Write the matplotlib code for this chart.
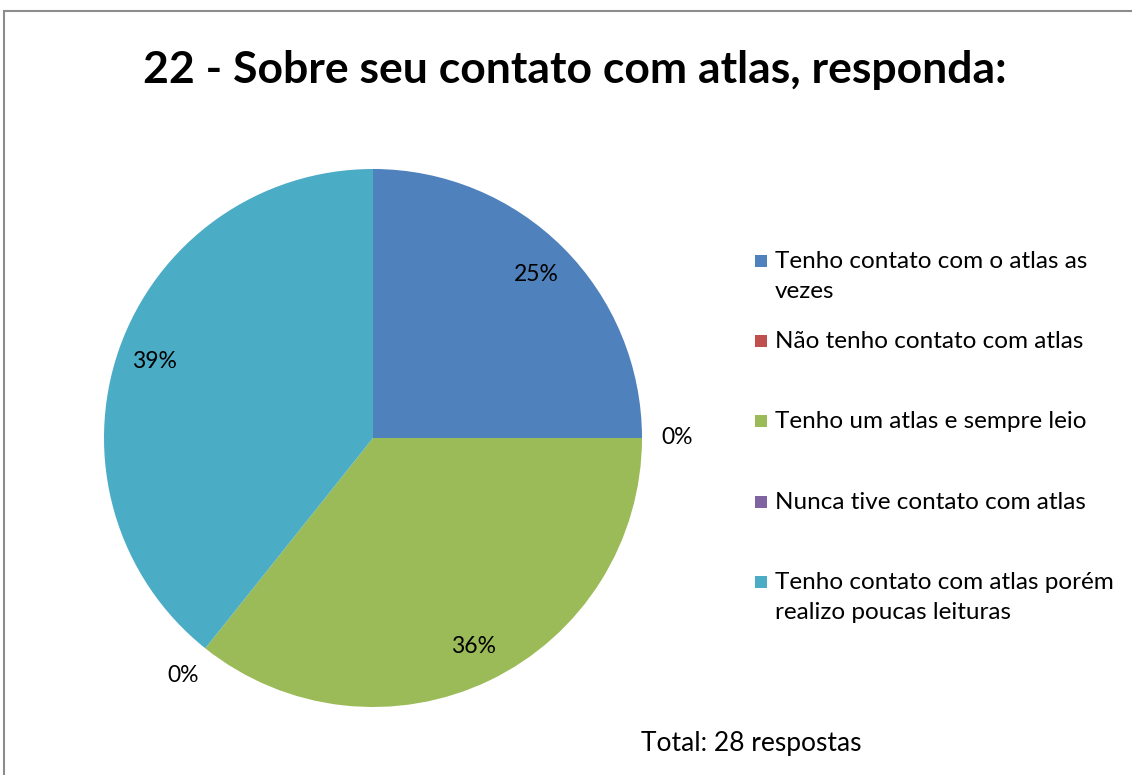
import matplotlib
matplotlib.use("Agg")
import matplotlib.pyplot as plt
from matplotlib.patches import Rectangle
import numpy as np

plt.rcParams['font.family'] = ['Lato', 'DejaVu Sans']

title = "22 - Sobre seu contato com atlas, responda:"
categories = [
    "Tenho contato com o atlas as\nvezes",
    "Não tenho contato com atlas",
    "Tenho um atlas e sempre leio",
    "Nunca tive contato com atlas",
    "Tenho contato com atlas porém\nrealizo poucas leituras",
]
counts = [7, 0, 10, 0, 11]
colors = ["#4F81BD", "#C0504D", "#9BBB59", "#8064A2", "#4BACC6"]
note = "Total: 28 respostas"

W, H = 1132, 775
fig = plt.figure(figsize=(W / 100, H / 100), dpi=100)
fig.patch.set_facecolor("white")

# outer border
fig.patches.append(Rectangle((4 / W, -0.1), 1.2, 1.1 - 11 / H, transform=fig.transFigure,
                             fill=False, edgecolor="#8c8c8c", linewidth=1.5))

cx, cy, r = 373, 438, 269
ax = fig.add_axes([(cx - r) / W, (H - cy - r) / H, 2 * r / W, 2 * r / H])
wedges, texts, autotexts = ax.pie(
    counts, colors=colors, startangle=90, counterclock=False, radius=1,
    autopct=lambda p: f"{p:.0f}%", pctdistance=0.86,
    wedgeprops=dict(linewidth=0),
    textprops=dict(fontsize=16.5, color="black"))
ax.set_xlim(-1, 1)
ax.set_ylim(-1, 1)
ax.set_aspect("equal")
ax.axis("off")

for w, t, c in zip(wedges, autotexts, counts):
    if c == 0:
        ang = np.deg2rad(w.theta1)
        t.set_position((1.13 * np.cos(ang), 1.13 * np.sin(ang)))

fig.text(575 / W, 1 - 70 / H, title, ha="center", va="center",
         fontsize=32, fontweight="bold")

# legend
ys = [261, 341, 421, 502, 582]
for lab, col, y in zip(categories, colors, ys):
    s = 12
    fig.patches.append(Rectangle((755 / W, 1 - (y + s / 2) / H), s / W, s / H,
                                 transform=fig.transFigure, facecolor=col, edgecolor="none"))
    fig.text(775 / W, 1 - (y - 10) / H, lab, ha="left", va="top",
             fontsize=17.5, linespacing=1.55)

fig.text(641 / W, 1 - 743 / H, note, ha="left", va="center", fontsize=19)

fig.savefig("out.png", dpi=100, facecolor="white")
